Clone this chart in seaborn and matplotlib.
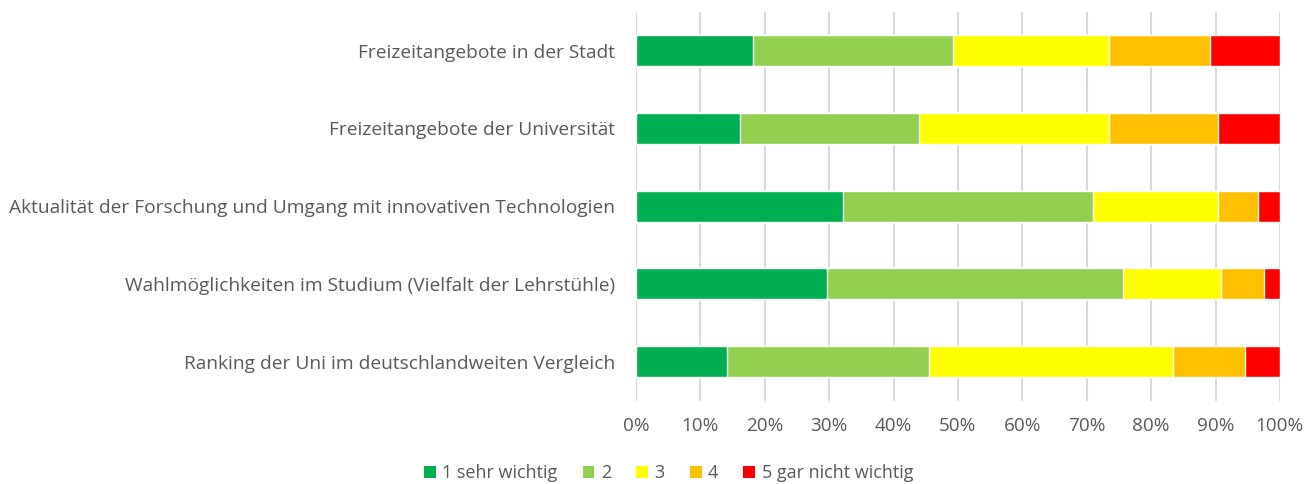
import numpy as np
import pandas as pd
import seaborn as sns
import matplotlib.pyplot as plt
from matplotlib.patches import Patch
from matplotlib.ticker import PercentFormatter

kategorien = [
    "Freizeitangebote in der Stadt",
    "Freizeitangebote der Universität",
    "Aktualität der Forschung und Umgang mit innovativen Technologien",
    "Wahlmöglichkeiten im Studium (Vielfalt der Lehrstühle)",
    "Ranking der Uni im deutschlandweiten Vergleich",
]
stufen = ["1 sehr wichtig", "2", "3", "4", "5 gar nicht wichtig"]
farben = ["#00B050", "#92D050", "#FFFF00", "#FFC000", "#FF0000"]

# Anteile in Prozent je Kategorie (Stufe 1..5)
s1 = [18.1, 16.2, 32.2, 29.7, 14.1]
s2 = [31.1, 27.8, 38.8, 45.9, 31.4]
s3 = [24.3, 29.5, 19.4, 15.2, 37.9]
s4 = [15.7, 16.9, 6.2, 6.7, 11.1]
s5 = [10.8, 9.6, 3.4, 2.5, 5.5]

df = pd.DataFrame({"kategorie": kategorien, stufen[0]: s1, stufen[1]: s2,
                   stufen[2]: s3, stufen[3]: s4, stufen[4]: s5})
werte = df[stufen].to_numpy()
werte = werte / werte.sum(axis=1, keepdims=True) * 100
kum = np.cumsum(werte, axis=1)

sns.set_theme(style="white")
plt.rcParams['font.family'] = ['Open Sans', 'DejaVu Sans']
grau = "#595959"

fig = plt.figure(figsize=(13.16, 4.84), dpi=100)
ax = fig.add_axes([0.4833, 0.1725, 0.4893, 0.803])

# gestapelt: von hinten (Summe) nach vorne zeichnen
for i in range(len(stufen) - 1, -1, -1):
    sns.barplot(x=kum[:, i], y=df["kategorie"], orient="h", color=farben[i],
                width=0.40, saturation=1, ax=ax, zorder=3)

ax.set_xlim(0, 100)
ax.set_ylim(4.5, -0.5)
ax.set_xticks(np.arange(0, 101, 10))
ax.xaxis.set_major_formatter(PercentFormatter(decimals=0))
ax.grid(axis="x", color="#D9D9D9", linewidth=1.5, zorder=0)
ax.set_axisbelow(True)
for sp in ax.spines.values():
    sp.set_visible(False)
ax.set_xlabel("")
ax.set_ylabel("")
ax.tick_params(axis="x", length=0, pad=12, labelsize=13.6, labelcolor=grau)
ax.tick_params(axis="y", length=0, pad=15, labelsize=13.8, labelcolor=grau)

handles = [Patch(facecolor=c, edgecolor="none") for c in farben]
fig.legend(handles, stufen, loc="center", bbox_to_anchor=(0.508, 0.022), ncol=5,
           frameon=False, fontsize=13, labelcolor=grau, handlelength=0.65,
           handleheight=0.65, handletextpad=0.35, columnspacing=1.4,
           borderpad=0.1)

fig.savefig("out.png", dpi=100)
